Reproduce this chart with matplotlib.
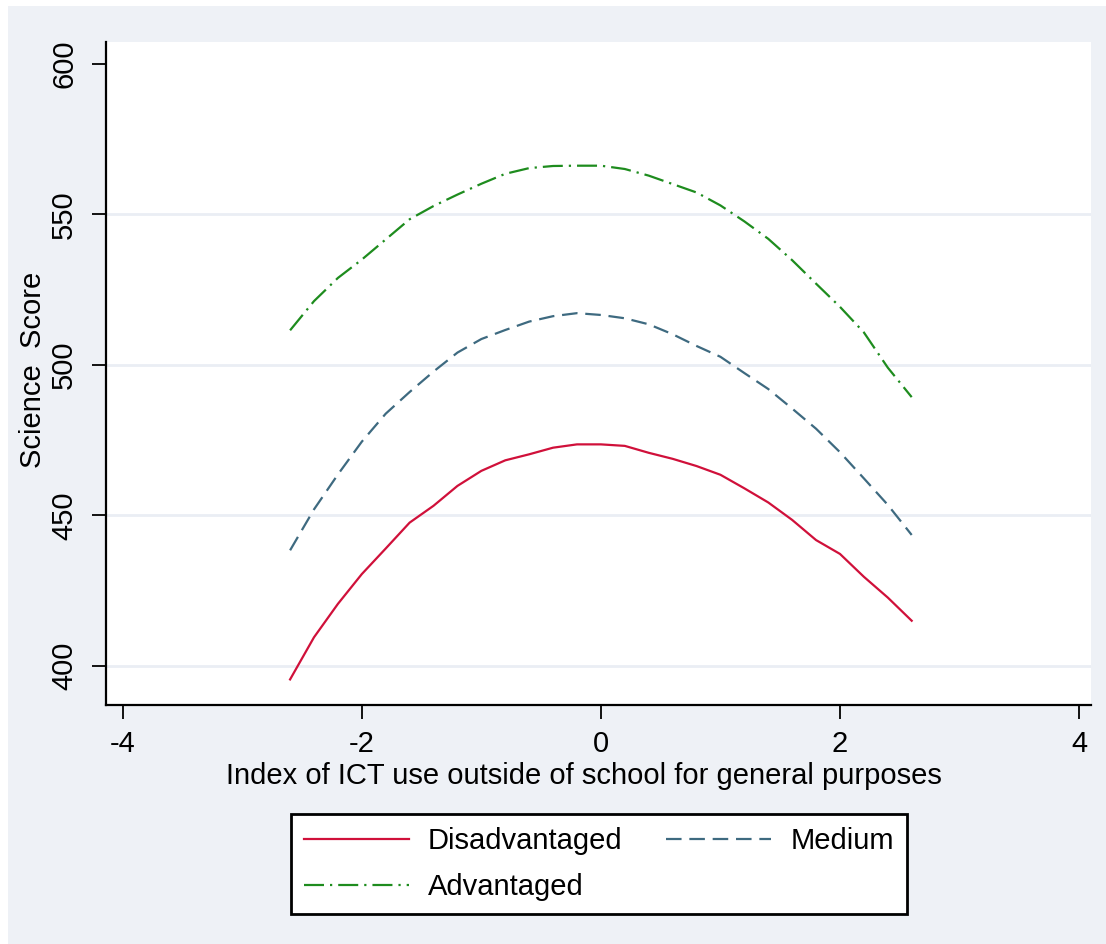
"""Predicted science score by ICT use index, by socio-economic group."""

import matplotlib.pyplot as plt
from matplotlib.patches import Rectangle

# ICT use index (x) and fitted science scores per group
ict_index = [-2.6, -2.4, -2.2, -2.0, -1.8, -1.6, -1.4, -1.2, -1.0, -0.8, -0.6, -0.4, -0.2,
             0.0, 0.2, 0.4, 0.6, 0.8, 1.0, 1.2, 1.4, 1.6, 1.8, 2.0, 2.2, 2.4, 2.6]
disadvantaged = [395.5, 409.5, 420.6, 430.5, 439.0, 447.6, 453.2, 459.8, 464.8, 468.3, 470.3,
                 472.5, 473.6, 473.6, 473.1, 470.8, 468.8, 466.4, 463.5, 459.0, 454.3, 448.5,
                 441.8, 437.2, 429.6, 422.7, 415.0]
medium = [438.4, 452.0, 463.6, 474.5, 483.8, 491.0, 497.8, 504.1, 508.6, 511.6, 514.4, 516.2,
          517.2, 516.6, 515.5, 513.5, 510.2, 506.3, 502.7, 497.3, 492.0, 485.5, 478.8, 471.0,
          462.3, 453.5, 443.5]
advantaged = [511.5, 521.2, 528.9, 535.0, 541.7, 548.4, 552.8, 556.6, 560.2, 563.5, 565.4, 566.1,
              566.2, 566.2, 565.1, 562.9, 560.1, 557.3, 553.0, 547.7, 541.9, 534.8, 527.0, 519.3,
              510.8, 499.1, 489.3]

x_ticks = [-4, -2, 0, 2, 4]
y_ticks = [400, 450, 500, 550, 600]

plt.rcParams["font.family"] = ["Liberation Sans", "DejaVu Sans"]
FS = 21

fig = plt.figure(figsize=(11.06, 9.44), dpi=100, facecolor="white")
fig.patches.append(Rectangle((8 / 1106, 0), 1 - 8 / 1106, 1 - 6 / 944,
                             transform=fig.transFigure, facecolor="#EEF1F6",
                             edgecolor="none", zorder=-10))
ax = fig.add_axes([106 / 1106, 1 - 705 / 944, 985 / 1106, 663 / 944])
ax.set_facecolor("white")

l1, = ax.plot(ict_index, disadvantaged, color="#D0103A", lw=1.6, ls="-")
l2, = ax.plot(ict_index, medium, color="#3E6A80", lw=1.6, ls=(0, (7, 3.5)))
l3, = ax.plot(ict_index, advantaged, color="#1E8C1E", lw=1.6, ls=(0, (9, 2.7, 1, 2.7)))

ax.set_xlim(-4.14, 4.1)
ax.set_ylim(387, 607.3)
ax.set_xticks(x_ticks)
ax.set_yticks(y_ticks)
ax.set_xticklabels([str(t) for t in x_ticks])
ax.set_yticklabels([str(t) for t in y_ticks], rotation=90, va="center")
ax.tick_params(axis="both", direction="out", length=10, width=1.3, labelsize=FS)
ax.tick_params(axis="x", pad=8)
ax.tick_params(axis="y", pad=10)

ax.grid(axis="y", color="#EAEEF4", lw=2)
ax.get_ygridlines()[-1].set_visible(False)
ax.set_axisbelow(True)

for side in ["top", "right"]:
    ax.spines[side].set_visible(False)
for side in ["left", "bottom"]:
    ax.spines[side].set_linewidth(1.6)

ax.set_xlabel("Index of ICT use outside of school for general purposes", fontsize=FS)
ax.xaxis.set_label_coords(0.485, -0.086)
ax.set_ylabel("Science  Score", fontsize=FS)
ax.yaxis.set_label_coords(-0.06, 0.505)

leg = fig.legend([l1, l3, l2], ["Disadvantaged", "Advantaged", "Medium"], ncol=2,
                 loc="center", bbox_to_anchor=(0.5416, 0.0847), fontsize=FS,
                 frameon=True, fancybox=False, edgecolor="black", framealpha=1,
                 handlelength=3.6, handletextpad=0.65, columnspacing=1.5,
                 labelspacing=0.6, borderpad=0.45)
leg.get_frame().set_linewidth(2)

fig.savefig("out.png", dpi=100)
